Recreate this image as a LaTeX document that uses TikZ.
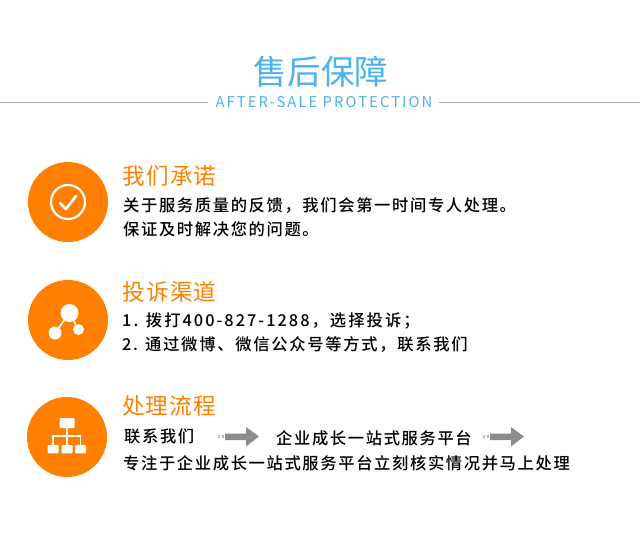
\documentclass[tikz,border=0pt]{standalone}
\usepackage{fontspec}
\setmainfont{Noto Sans CJK SC}
\newfontfamily\bodyf[LetterSpace=10]{Noto Sans CJK SC Medium}
\newfontfamily\bodyg[LetterSpace=12.5]{Noto Sans CJK SC Medium}
\newfontfamily\bodyh[LetterSpace=10.5]{Noto Sans CJK SC Medium}
\newfontfamily\headf[LetterSpace=5]{Noto Sans CJK SC}
\newfontfamily\enf[LetterSpace=14]{Noto Sans CJK SC}
\definecolor{sky}{HTML}{4CB1EC}
\definecolor{org}{HTML}{FF8000}
\tikzset{
  title/.style={text=sky,inner sep=0pt,font=\fontsize{33.6}{34}\selectfont},
  sub/.style={text=sky,inner sep=0pt,font=\enf\fontsize{14.8}{15}\selectfont},
  head/.style={text=org,anchor=west,inner sep=0pt,font=\headf\fontsize{22.6}{23}\selectfont},
  body/.style={text=black,anchor=west,inner sep=0pt,font=\bodyf\fontsize{16.3}{16}\selectfont},
  disc/.style={circle,fill=org,minimum size=80pt,inner sep=0pt},
  rule/.style={draw=black!30,line width=1pt},
  gar/.style={fill=black!45,draw=none}
}
\begin{document}
\begin{tikzpicture}[x=1pt,y=-1pt]
\useasboundingbox (0,0) rectangle (640,552);
\node[title] (t) at (321,71.5) {售后保障};
\node[sub] (s) at (324,102.5) {AFTER-SALE PROTECTION};
\draw[rule] (0,102) -- (208,102);
\draw[rule] (439,102) -- (640,102);
% discs
\node[disc] (d1) at (68,202) {};
\node[disc] (d2) at (68,320) {};
\node[disc] (d3) at (67,437) {};
% check
\node[circle,draw=white,line width=2.2pt,minimum size=34pt,inner sep=0pt] (c1) at (d1) {};
\draw[white,line width=2.6pt,line cap=round,line join=round] (60,203) -- (66,209) -- (76,196);
% share
\node[circle,fill=white,minimum size=18pt,inner sep=0pt] (a) at (69.5,313) {};
\node[circle,fill=white,minimum size=13pt,inner sep=0pt] (b) at (55,333) {};
\node[circle,fill=white,minimum size=11pt,inner sep=0pt] (e) at (78.5,329.5) {};
\draw[white,line width=1.8pt] (a) -- (b);
\draw[white,line width=1.8pt] (a) -- (e);
% org chart
\node[fill=white,rounded corners=1pt,minimum width=15pt,minimum height=10pt,inner sep=0pt] (o0) at (67,423) {};
\node[fill=white,rounded corners=1pt,minimum width=11pt,minimum height=8.5pt,inner sep=0pt] (o1) at (53,449) {};
\node[fill=white,rounded corners=1pt,minimum width=11pt,minimum height=8.5pt,inner sep=0pt] (o2) at (67,449) {};
\node[fill=white,rounded corners=1pt,minimum width=11pt,minimum height=8.5pt,inner sep=0pt] (o3) at (80.5,449) {};
\draw[white,line width=1.5pt] (o0) -- (o2);
\draw[white,line width=1.5pt] (o1.north) |- (67,436) -| (o3.north);
% texts
\node[head] (h1) at (122.5,175.5) {我们承诺};
\node[body] (b1) at (123,205.5) {关于服务质量的反馈，我们会第一时间专人处理。};
\node[body] (b2) at (123,229.5) {保证及时解决您的问题。};
\node[head] (h2) at (122.5,291.5) {投诉渠道};
\node[body,font=\bodyg\fontsize{16.3}{16}\selectfont] (b3) at (122,320.5) {1. 拨打400-827-1288，选择投诉；};
\node[body,font=\bodyh\fontsize{16.3}{16}\selectfont] (b4) at (122,344.5) {2. 通过微博、微信公众号等方式，联系我们};
\node[head] (h3) at (122,405.5) {处理流程};
\node[body] (b5) at (124,436) {联系我们};
\node[body] (b6) at (276,438.5) {企业成长一站式服务平台};
\node[body] (b7) at (123,463.5) {专注于企业成长一站式服务平台立刻核实情况并马上处理};
% arrows
\foreach \x in {218,483}{
  \fill[black!25] (\x,434.5) rectangle +(2,3.5);
  \fill[black!30] (\x+3.5,434.5) rectangle +(2.5,3.5);
  \fill[gar] (\x+7,433.5) -- (\x+28,433.5) -- (\x+28,427) -- (\x+41,436.5) -- (\x+28,446.5) -- (\x+28,440) -- (\x+7,440) -- cycle;
}
\end{tikzpicture}
\end{document}
